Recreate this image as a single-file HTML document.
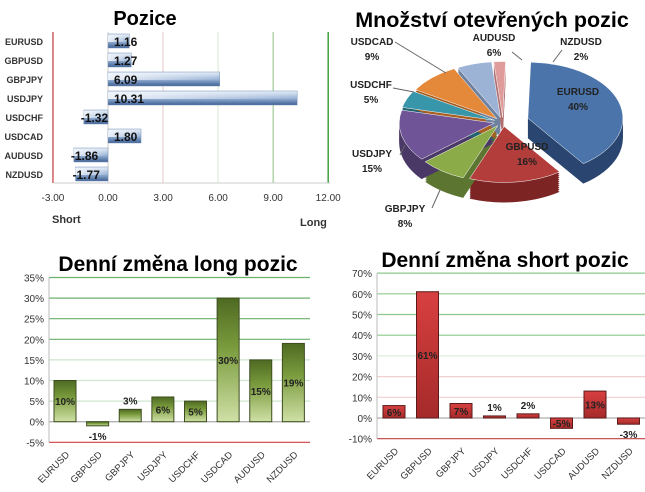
<!DOCTYPE html>
<html><head><meta charset="utf-8"><style>
body{margin:0;background:#fff;width:645px;height:492px;overflow:hidden;font-family:"Liberation Sans",sans-serif}
svg{position:absolute;left:0;top:0}
</style></head><body>
<svg id="s" width="645" height="492" font-family="Liberation Sans, sans-serif">
<defs>
<linearGradient id="gb" x1="0" y1="0" x2="0" y2="1"><stop offset="0" stop-color="#e6eef8"/><stop offset="0.5" stop-color="#9db6d8"/><stop offset="1" stop-color="#3c5f93"/></linearGradient>
<linearGradient id="gbh" x1="0" y1="0" x2="1" y2="0"><stop offset="0" stop-color="#f3f7fc" stop-opacity="0.9"/><stop offset="1" stop-color="#f3f7fc" stop-opacity="0"/></linearGradient>
<linearGradient id="gg" x1="0" y1="0" x2="0" y2="1"><stop offset="0" stop-color="#4e6a22"/><stop offset="0.4" stop-color="#7a9b3d"/><stop offset="1" stop-color="#cfe0a6"/></linearGradient>
<linearGradient id="gr" x1="0" y1="0" x2="0" y2="1"><stop offset="0" stop-color="#d84040"/><stop offset="1" stop-color="#a52a2a"/></linearGradient>
</defs>
<text x="145" y="25" font-size="20" font-weight="bold" text-anchor="middle">Pozice</text>
<text x="492" y="27" font-size="21.5" font-weight="bold" text-anchor="middle">Množství otevřených pozic</text>
<text x="178" y="271" font-size="21" font-weight="bold" text-anchor="middle">Denní změna long pozic</text>
<text x="505" y="267" font-size="21" font-weight="bold" text-anchor="middle">Denní změna short pozic</text>
<text x="52" y="223" font-size="11" font-weight="bold" fill="#333">Short</text>
<text x="300" y="226" font-size="11" font-weight="bold" fill="#333">Long</text>
<g id="c1"></g><g id="c2"></g><g id="c3"></g><g id="c4"></g>
</svg>
<script>
const pairs=['EURUSD','GBPUSD','GBPJPY','USDJPY','USDCHF','USDCAD','AUDUSD','NZDUSD'];
const posValues=[1.16,1.27,6.09,10.31,-1.32,1.80,-1.86,-1.77];
const posTicks=[-3,0,3,6,9,12];
const pieLabels=['EURUSD','GBPUSD','GBPJPY','USDJPY','USDCHF','USDCAD','AUDUSD','NZDUSD'];
const pieValues=[40,16,8,15,5,9,6,2];
const longValues=[10,-1,3,6,5,30,15,19];
const longTicks=[-5,0,5,10,15,20,25,30,35];
const shortValues=[6,61,7,1,2,-5,13,-3];
const shortTicks=[-10,0,10,20,30,40,50,60,70];
const NS='http://www.w3.org/2000/svg';
function mk(p,t,a,txt){const e=document.createElementNS(NS,t);for(const k in a)e.setAttribute(k,a[k]);if(txt!==undefined)e.textContent=txt;p.appendChild(e);return e;}

// Chart 1
(function(){
 const g=document.getElementById('c1');
 const x=v=>108+(v)*18.35;
 const y=i=>41+i*19;
 const gc={'-3':'#d06060','0':'#ccc','3':'#e8c8c8','6':'#d8e8d0','9':'#8cc080','12':'#40a040'};
 posTicks.forEach(t=>{
  const l=mk(g,'line',{x1:x(t),x2:x(t),y1:32,y2:183,stroke:gc[t],'stroke-width':t===12||t===-3?1.5:1});
  
  
  const tx=mk(g,'text',{x:x(t),y:201,'font-size':10,'text-anchor':'middle',fill:'#333'},t.toFixed(2));
  
  
 });
 mk(g,'line',{x1:54,x2:330,y1:183,y2:183,stroke:'#ccc'});
 pairs.forEach((p,i)=>{
  const v=posValues[i],x0=Math.min(x(0),x(v)),w=Math.abs(x(v)-x(0));
  const lb=mk(g,'text',{x:43,y:y(i)+4,'font-size':9,'font-weight':'bold','text-anchor':'end',fill:'#333'},p);
  
  
  const r=mk(g,'rect',{x:x0,y:y(i)-7,width:w,height:14,fill:'url(#gb)',stroke:'#7d95b8','stroke-width':0.5});
  
  
  mk(g,'rect',{x:x0,y:y(i)-6,width:w,height:7,fill:'url(#gbh)'});
  const t=mk(g,'text',{x:v>=0?x(0)+6:x(v)-3,y:y(i)+5,'font-size':12,'font-weight':'bold',fill:'#111'},v.toFixed(2));
  
  
 });
})();

// Pie
(function(){
 const g=document.getElementById('c2');
 const cx=503,cy=122,rx=95,ry=56,d=20;
 const tot=pieValues.reduce((a,b)=>a+b,0);
 const cols=['#4a74aa','#b23d3b','#8aab47','#6f5497','#3796aa','#e4883a','#9db3d5','#e09b9b'];
 const dark=['#2a4670','#7c2524','#5c7530','#4a3866','#21636f','#a85f22','#6e82a0','#b07070'];
 let a0=-Math.PI/2+0.03;
 const segs=pieValues.map((v,i)=>{const a=v/tot*2*Math.PI;const s={a0:a0,a1:a0+a,i:i};a0+=a;return s;});
 function path(s,off){const m=(s.a0+s.a1)/2,ex=(s.i===0?26:9);
  const ox=cx+Math.cos(m)*ex,oy=cy+Math.sin(m)*ex*0.5+off;
  const p1=[ox+rx*Math.cos(s.a0),oy+ry*Math.sin(s.a0)],p2=[ox+rx*Math.cos(s.a1),oy+ry*Math.sin(s.a1)];
  const large=(s.a1-s.a0)>Math.PI?1:0;
  return `M${ox},${oy}L${p1[0]},${p1[1]}A${rx},${ry} 0 ${large} 1 ${p2[0]},${p2[1]}Z`;}
 segs.forEach(s=>{for(let k=d;k>0;k-=2){mk(g,'path',{d:path(s,k),fill:dark[s.i]});}});
 segs.forEach(s=>{const p=mk(g,'path',{d:path(s,0),fill:cols[s.i],stroke:'#fff','stroke-width':0.5});
  
  });
 const lp=[[578,95,'#222'],[527,150,'#222'],[405,212,'#222'],[372,157,'#222'],[371,88,'#222'],[372,45,'#222'],[494,41,'#222'],[581,45,'#222']];
 pieLabels.forEach((n,i)=>{
  const t=mk(g,'text',{x:lp[i][0],y:lp[i][1],'font-size':10,'font-weight':'bold','text-anchor':'middle',fill:lp[i][2]},n);
  
  
  const t2=mk(g,'text',{x:lp[i][0],y:lp[i][1]+15,'font-size':10,'font-weight':'bold','text-anchor':'middle',fill:lp[i][2]},pieValues[i]+'%');
  
  
 });
 const ll=[[395,42,446,73],[393,88,414,92],[400,155,405,145],[432,208,440,190],[512,52,522,60],[553,62,562,50]];
 ll.forEach(l=>mk(g,'polyline',{points:`${l[0]},${l[1]} ${l[2]},${l[3]}`,stroke:'#666',fill:'none'}));
})();

function barChart(gid,vals,ticks,x0,x1,yZero,pxPer,step,first,gridCol,fill,stroke){
 const g=document.getElementById(gid);
 const y=v=>yZero-v/step*pxPer;
 ticks.forEach(t=>{
  const l=mk(g,'line',{x1:x0,x2:x1,y1:y(t),y2:y(t),stroke:gridCol(t),'stroke-width':1.2});
  
  
  const tx=mk(g,'text',{x:x0-5,y:y(t)+4,'font-size':10,'text-anchor':'end',fill:'#333'},t+'%');
  
  
 });
 mk(g,'line',{x1:x0,x2:x0,y1:y(ticks[ticks.length-1]),y2:y(ticks[0]),stroke:'#bbb'});
 mk(g,'line',{x1:x0,x2:x1,y1:y(0),y2:y(0),stroke:'#aaa'});
 const sp=(x1-x0)/8;
 pairs.forEach((p,i)=>{
  const v=vals[i],cx=first+i*sp,yt=Math.min(y(0),y(v)),h=Math.max(Math.abs(y(v)-y(0)),2);
  const r=mk(g,'rect',{x:cx-11,y:yt,width:22,height:h,fill:fill,stroke:stroke,'stroke-width':1});
  
  
  const ly=Math.abs(v)<4?(v>=0?y(v)-5:y(v)+14):(y(v)+y(0))/2+4;
  const t=mk(g,'text',{x:cx,y:ly,'font-size':10,'font-weight':'bold','text-anchor':'middle',fill:'#222'},Math.round(v)+'%');
  
  
  const xl=mk(g,'text',{x:cx+5,y:y(ticks[0])+13,'font-size':9.5,'text-anchor':'end',fill:'#333',transform:`rotate(-45 ${cx+5} ${y(ticks[0])+13})`},p);
  
  
 });
}
barChart('c3',longValues,longTicks,49,310,421.7,20.6,5,65,t=>t<0?'#d04040':t>=20?'#6bb06b':(t>0?'#cfe6cf':'#bbb'),'url(#gg)','#3d4d20');
barChart('c4',shortValues,shortTicks,377,645,418,20.7,10,394,t=>t<0?'#c04040':t>=40?'#8cc88c':(t>=30?'#e0efe0':(t>0?'#f0d0d0':'#bbb')),'url(#gr)','#5a1a1a');
</script>
</body></html>
